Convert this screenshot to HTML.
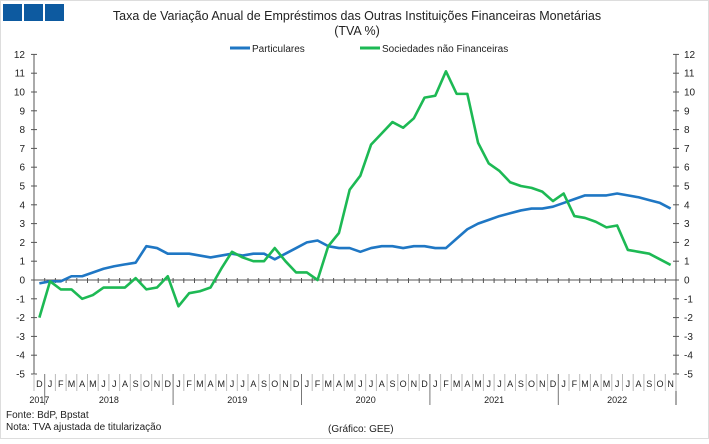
<!DOCTYPE html>
<html><head><meta charset="utf-8"><style>
body{margin:0;background:#fff;font-family:"Liberation Sans",sans-serif;}
svg text{font-family:"Liberation Sans",sans-serif;fill:#222;}
</style></head><body>
<svg id="c" width="709" height="439" viewBox="0 0 709 439">
<rect x="0.5" y="0.5" width="708" height="438" fill="#fff" stroke="#ddd"/>
<rect x="3" y="4" width="19" height="17" fill="#0d5aa0"/>
<rect x="24" y="4" width="19" height="17" fill="#0d5aa0"/>
<rect x="45" y="4" width="19" height="17" fill="#0d5aa0"/>
<text x="357" y="20" text-anchor="middle" font-size="12.5">Taxa de Variação Anual de Empréstimos das Outras Instituições Financeiras Monetárias</text>
<text x="357" y="35" text-anchor="middle" font-size="12.5">(TVA %)</text>
<g>
<line x1="230" y1="48" x2="250" y2="48" stroke="#1f77c4" stroke-width="3"/>
<text x="252" y="52" font-size="10">Particulares</text>
<line x1="360" y1="48" x2="380" y2="48" stroke="#1db954" stroke-width="3"/>
<text x="382" y="52" font-size="10">Sociedades não Financeiras</text>
</g>
<g id="axes"></g>
<g id="series"></g>
<text x="6" y="418" font-size="10">Fonte: BdP, Bpstat</text>
<text x="6" y="430" font-size="10">Nota: TVA ajustada de titularização</text>
<text x="328" y="432" font-size="10">(Gráfico: GEE)</text>
</svg>
<script>
const monthLabels=["D","J","F","M","A","M","J","J","A","S","O","N"];
const years=["2017","2018","2019","2020","2021","2022"];
const yTicks=[-5,-4,-3,-2,-1,0,1,2,3,4,5,6,7,8,9,10,11,12];
const particulares=[-0.18,-0.07,-0.07,0.2,0.2,0.4,0.6,0.73,0.83,0.92,1.8,1.7,1.4,1.4,1.4,1.3,1.2,1.3,1.4,1.3,1.4,1.4,1.1,1.4,1.7,2.0,2.1,1.8,1.7,1.7,1.5,1.7,1.8,1.8,1.7,1.8,1.8,1.7,1.7,2.2,2.7,3.0,3.2,3.4,3.55,3.7,3.8,3.8,3.9,4.1,4.3,4.5,4.5,4.5,4.6,4.5,4.4,4.25,4.1,3.8];
const sociedades=[-2,-0.07,-0.5,-0.5,-1.0,-0.8,-0.4,-0.4,-0.4,0.1,-0.5,-0.4,0.2,-1.4,-0.7,-0.6,-0.4,0.6,1.5,1.2,1.0,1.0,1.7,1.0,0.4,0.4,0,1.8,2.5,4.8,5.55,7.2,7.8,8.4,8.1,8.6,9.7,9.8,11.1,9.9,9.9,7.3,6.2,5.8,5.2,5.0,4.9,4.7,4.2,4.6,3.4,3.3,3.1,2.8,2.9,1.6,1.5,1.4,1.1,0.8];

const NS="http://www.w3.org/2000/svg";
const L=34,R=676,T=54.4,B=374;
const n=particulares.length;
const cw=(R-L)/n;
const x=i=>L+cw*(i+0.5);
const y=v=>B-(v-(-5))*(B-T)/17;
const ax=document.getElementById('axes'), sg=document.getElementById('series');
function mk(tag,attrs,parent){const e=document.createElementNS(NS,tag);for(const k in attrs)e.setAttribute(k,attrs[k]);parent.appendChild(e);return e;}
let e;
e=mk('line',{x1:L,y1:T,x2:L,y2:B,stroke:'#555'},ax);


e=mk('line',{x1:R,y1:T,x2:R,y2:B+31,stroke:'#555'},ax);


e=mk('line',{x1:L,y1:y(0),x2:R,y2:y(0),stroke:'#555'},ax);


yTicks.forEach(v=>{
  mk('line',{x1:L-3,y1:y(v),x2:L+3,y2:y(v),stroke:'#555'},ax);
  mk('line',{x1:R-3,y1:y(v),x2:R+3,y2:y(v),stroke:'#555'},ax);
  e=mk('text',{x:L-9,y:y(v)+3.5,'text-anchor':'end','font-size':'10'},ax);
  e.textContent=v;
  
  
  e=mk('text',{x:R+8,y:y(v)+3.5,'font-size':'10'},ax);
  e.textContent=v;
  
  
});
for(let i=0;i<=n;i++){
  const xb=L+cw*i;
  mk('line',{x1:xb,y1:y(0)-2,x2:xb,y2:y(0)+3,stroke:'#555'},ax);
  const yearB=(i%12===1);
  mk('line',{x1:xb,y1:B,x2:xb,y2:yearB?B+31:B+17,stroke:yearB?'#777':'#bbb'},ax);
}
for(let i=0;i<n;i++){
  e=mk('text',{x:x(i),y:B+13,'text-anchor':'middle','font-size':'9'},ax);
  e.textContent=monthLabels[i%12];
  
  
}
years.forEach((yr,k)=>{
  let cx;
  if(k===0) cx=x(0);
  else {const s=1+(k-1)*12, en=Math.min(s+11,n-1); cx=(x(s)+x(en))/2;}
  e=mk('text',{x:cx,y:B+29,'text-anchor':'middle','font-size':'9'},ax);
  e.textContent=yr;
  
  
});
function line(data,color,name){
  const p=mk('polyline',{points:data.map((v,i)=>x(i)+','+y(v)).join(' '),fill:'none',stroke:color,'stroke-width':'2.6','stroke-linejoin':'round'},sg);
  
  
}
line(particulares,'#1f77c4','particulares-line');
line(sociedades,'#1db954','sociedades-line');
</script>
</body></html>
